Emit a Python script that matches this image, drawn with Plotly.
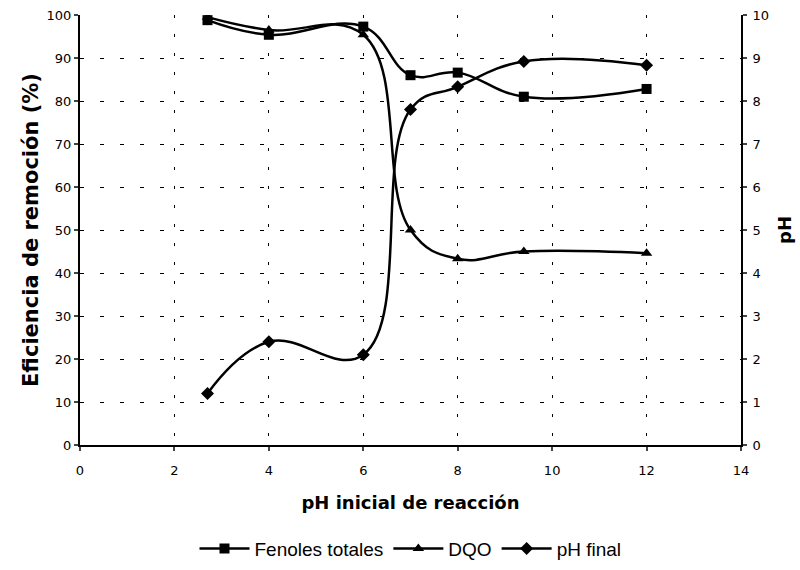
import plotly.graph_objects as go

ph_inicial = [2.7, 4, 6, 7, 8, 9.4, 12]
fenoles = [98.8, 95.4, 97.3, 86.0, 86.6, 81.0, 82.8]
dqo = [99.5, 96.5, 95.4, 50.0, 43.3, 45.0, 44.6]
ph_final = [1.2, 2.4, 2.1, 7.8, 8.33, 8.92, 8.83]

tick_font = dict(family="DejaVu Sans", size=13, color="black")
title_font = dict(family="DejaVu Sans", size=18, color="black")

fig = go.Figure()
line = dict(color="black", width=2.5, shape="spline", smoothing=1.2)
fig.add_trace(go.Scatter(x=ph_inicial, y=fenoles, name="Fenoles totales", mode="lines+markers",
                         line=line, marker=dict(symbol="square", size=10, color="black")))
fig.add_trace(go.Scatter(x=ph_inicial, y=dqo, name="DQO", mode="lines+markers",
                         line=line, marker=dict(symbol="triangle-up", size=10, color="black")))
fig.add_trace(go.Scatter(x=ph_inicial, y=ph_final, name="pH final", mode="lines+markers", yaxis="y2",
                         line=line, marker=dict(symbol="diamond", size=10, color="black")))

fig.update_layout(
    width=800, height=570, paper_bgcolor="white", plot_bgcolor="white",
    margin=dict(l=80, r=59, t=15, b=125, autoexpand=False),
    font=dict(family="Liberation Sans, Arial, sans-serif", color="black", size=13),
    xaxis=dict(range=[0, 14], dtick=2, ticks="outside", ticklen=4, tickwidth=1.5,
               showline=True, linecolor="black", linewidth=2, zeroline=False,
               ticklabelstandoff=8, automargin=False,
               showgrid=True, gridcolor="black", gridwidth=1, griddash="3px,16px",
               title=dict(text="<b>pH inicial de reacción</b>", font=title_font, standoff=20),
               tickfont=tick_font),
    yaxis=dict(range=[0, 100], dtick=10, ticks="outside", ticklen=4, tickwidth=1.5,
               showline=True, linecolor="black", linewidth=2, zeroline=False, automargin=False,
               showgrid=True, gridcolor="black", gridwidth=1, griddash="4px,16px",
               title=dict(text="<b>Eficiencia de remoción (%)</b>", font=dict(family="DejaVu Sans", size=21, color="black"), standoff=2),
               tickfont=tick_font),
    yaxis2=dict(range=[0, 10], dtick=1, ticks="outside", ticklen=4, tickwidth=1.5,
                overlaying="y", side="right", showgrid=False, zeroline=False, automargin=False,
                showline=True, linecolor="black", linewidth=2, ticklabelstandoff=3,
                title=dict(text="<b>pH</b>", font=title_font, standoff=10),
                tickfont=tick_font),
    legend=dict(orientation="h", x=0.5, xanchor="center", y=-0.197, yanchor="top",
                font=dict(family="Liberation Sans, Arial, sans-serif", size=19), itemwidth=50),
    showlegend=True,
)
fig.write_html("out.html")
